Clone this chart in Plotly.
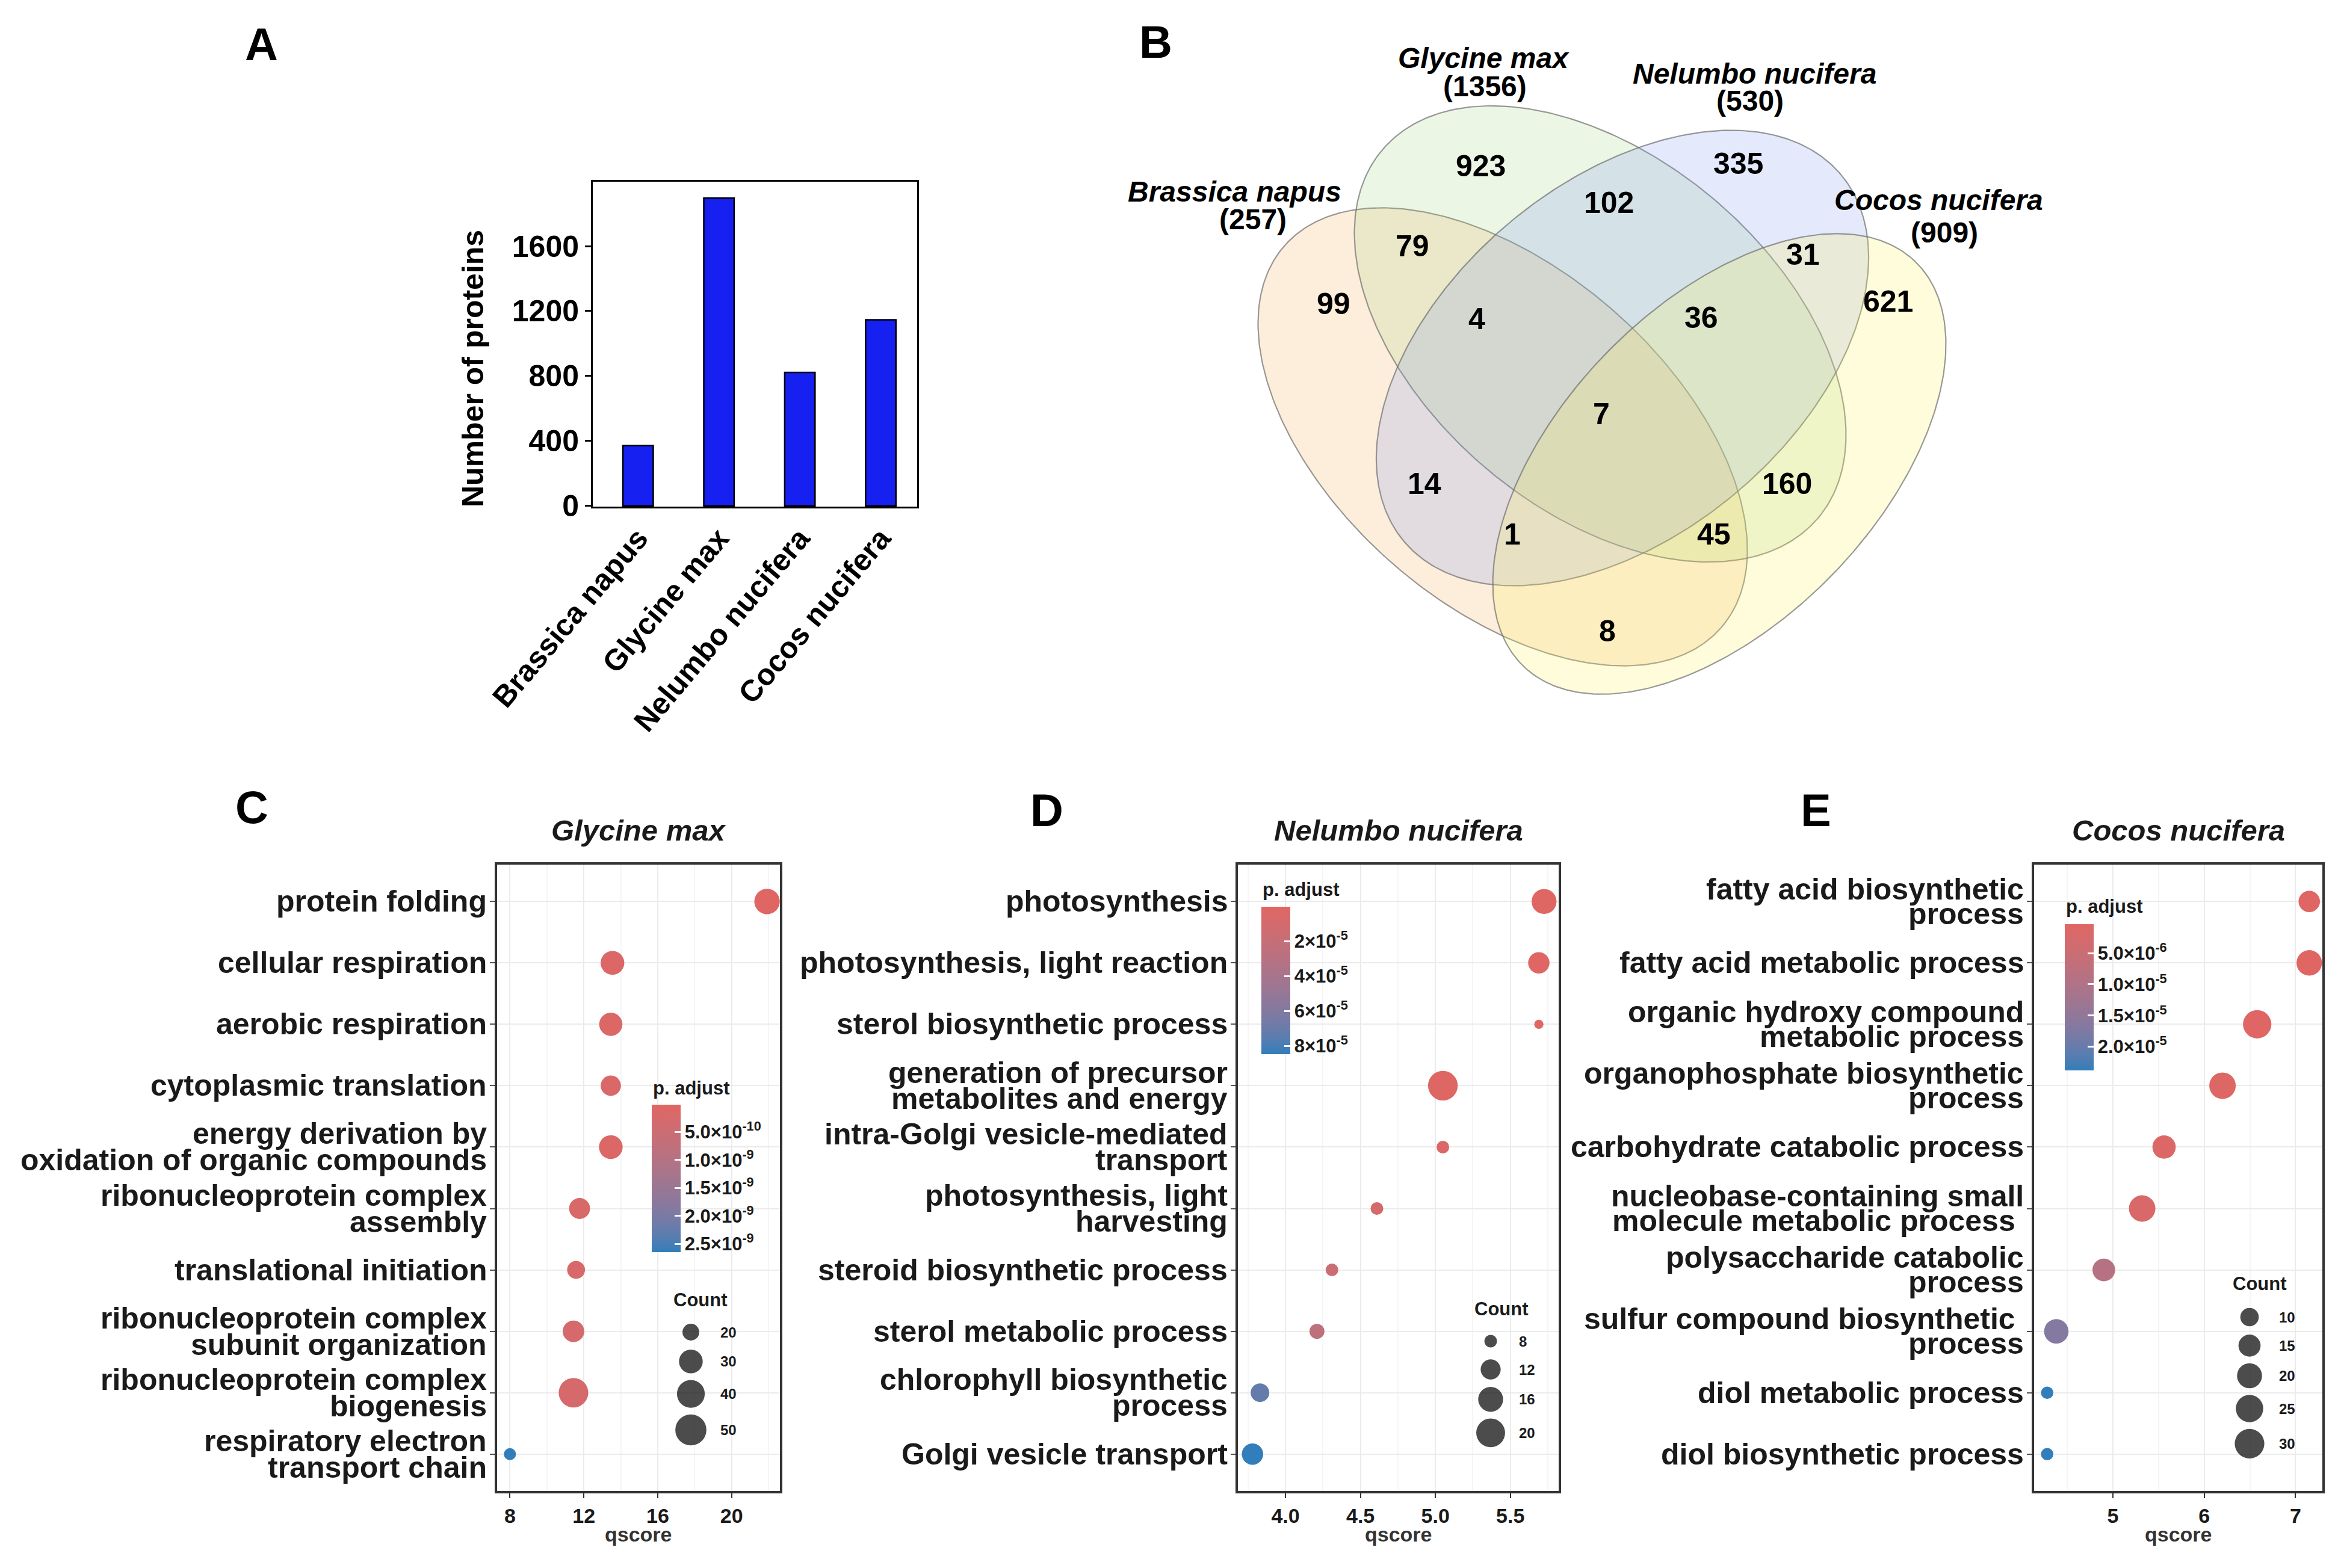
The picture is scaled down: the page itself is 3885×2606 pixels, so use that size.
import numpy as np
import plotly.graph_objects as go

W, H = 3885, 2606
FONT = "Liberation Sans, Arial, sans-serif"
VFONT = "Liberation Sans, Arial, sans-serif"

# ---------------- Panel A data ----------------
species = ["Brassica napus", "Glycine max", "Nelumbo nucifera", "Cocos nucifera"]
protein_counts = [371, 1896, 822, 1146]
a_yticks = [0, 400, 800, 1200, 1600]

# ---------------- Panel B data ----------------
venn_sets = ["Brassica napus", "Glycine max", "Nelumbo nucifera", "Cocos nucifera"]
venn_totals = [257, 1356, 530, 909]
venn_regions = ["A", "B", "C", "D", "AB", "BC", "CD", "AC", "BD", "AD",
                "ABC", "BCD", "ACD", "ABD", "ABCD"]
venn_counts = [99, 923, 335, 621, 79, 102, 31, 14, 160, 8, 4, 36, 1, 45, 7]

# ---------------- Panel C data (Glycine max) ----------------
c_terms = ["protein folding", "cellular respiration", "aerobic respiration",
           "cytoplasmic translation",
           "energy derivation by\noxidation of organic compounds",
           "ribonucleoprotein complex\nassembly", "translational initiation",
           "ribonucleoprotein complex\nsubunit organization",
           "ribonucleoprotein complex\nbiogenesis",
           "respiratory electron\ntransport chain"]
c_qscore = [21.92, 13.55, 13.46, 13.46, 13.46, 11.77, 11.58, 11.44, 11.44, 8.0]
c_count = [34, 30, 29, 24, 30, 25, 21, 26, 45, 18]
c_padj = [1.0e-11, 1.2e-10, 1.3e-10, 1.5e-10, 1.3e-10, 2.0e-10, 2.2e-10, 2.4e-10, 2.4e-10, 2.65e-9]
c_cbar_ticks = [5.0e-10, 1.0e-9, 1.5e-9, 2.0e-9, 2.5e-9]
c_cbar_text = ["5.0×10<sup>-10</sup>", "1.0×10<sup>-9</sup>", "1.5×10<sup>-9</sup>",
               "2.0×10<sup>-9</sup>", "2.5×10<sup>-9</sup>"]
c_count_breaks = [20, 30, 40, 50]

# ---------------- Panel D data (Nelumbo nucifera) ----------------
d_terms = ["photosynthesis", "photosynthesis, light reaction",
           "sterol biosynthetic process",
           "generation of precursor\nmetabolites and energy",
           "intra-Golgi vesicle-mediated\ntransport",
           "photosynthesis, light\nharvesting", "steroid biosynthetic process",
           "sterol metabolic process", "chlorophyll biosynthetic\nprocess",
           "Golgi vesicle transport"]
d_qscore = [5.725, 5.69, 5.69, 5.05, 5.05, 4.61, 4.31, 4.21, 3.83, 3.78]
d_count = [16, 13, 7, 21, 8, 8, 8, 9, 11, 13]
d_padj = [3.4e-7, 1.0e-6, 2.0e-6, 1.5e-6, 4.6e-6, 8.8e-6, 1.7e-5, 2.6e-5, 7.2e-5, 8.48e-5]
d_cbar_ticks = [2e-5, 4e-5, 6e-5, 8e-5]
d_cbar_text = ["2×10<sup>-5</sup>", "4×10<sup>-5</sup>", "6×10<sup>-5</sup>", "8×10<sup>-5</sup>"]
d_count_breaks = [8, 12, 16, 20]

# ---------------- Panel E data (Cocos nucifera) ----------------
e_terms = ["fatty acid biosynthetic\nprocess", "fatty acid metabolic process",
           "organic hydroxy compound\nmetabolic process",
           "organophosphate biosynthetic\nprocess",
           "carbohydrate catabolic process",
           "nucleobase-containing small\nmolecule metabolic process\u00a0",
           "polysaccharide catabolic\nprocess",
           "sulfur compound biosynthetic\u00a0\nprocess",
           "diol metabolic process", "diol biosynthetic process"]
e_qscore = [7.15, 7.15, 6.58, 6.2, 5.56, 5.32, 4.9, 4.38, 4.28, 4.28]
e_count = [14, 21, 27, 23, 17, 23, 16, 19, 5, 5]
e_padj = [3.7e-7, 4.0e-7, 6.0e-7, 1.0e-6, 1.5e-6, 1.8e-6, 8.6e-6, 1.68e-5, 2.38e-5, 2.38e-5]
e_cbar_ticks = [5.0e-6, 1.0e-5, 1.5e-5, 2.0e-5]
e_cbar_text = ["5.0×10<sup>-6</sup>", "1.0×10<sup>-5</sup>", "1.5×10<sup>-5</sup>", "2.0×10<sup>-5</sup>"]
e_count_breaks = [10, 15, 20, 25, 30]


# ---------------- helpers ----------------
def px(x):
    return x / W


def py(y):
    return 1 - y / H


def _lin(c):
    c = c / 255.0
    return c / 12.92 if c <= 0.04045 else ((c + 0.055) / 1.055) ** 2.4


def _gam(c):
    c = max(0.0, c)
    c = 12.92 * c if c <= 0.0031308 else 1.055 * c ** (1 / 2.4) - 0.055
    return int(min(255, max(0, round(c * 255))))


def rgb2lab(rgb):
    r, g, b = [_lin(v) for v in rgb]
    X = (0.4124 * r + 0.3576 * g + 0.1805 * b) / 0.95047
    Y = 0.2126 * r + 0.7152 * g + 0.0722 * b
    Z = (0.0193 * r + 0.1192 * g + 0.9505 * b) / 1.08883
    f = lambda t: t ** (1 / 3) if t > 0.008856 else 7.787 * t + 16 / 116
    fx, fy, fz = f(X), f(Y), f(Z)
    return 116 * fy - 16, 500 * (fx - fy), 200 * (fy - fz)


def lab2rgb(lab):
    L, a, b = lab
    fy = (L + 16) / 116
    fx = fy + a / 500
    fz = fy - b / 200
    finv = lambda t: t ** 3 if t ** 3 > 0.008856 else (t - 16 / 116) / 7.787
    X, Y, Z = finv(fx) * 0.95047, finv(fy), finv(fz) * 1.08883
    r = 3.2406 * X - 1.5372 * Y - 0.4986 * Z
    g = -0.9689 * X + 1.8758 * Y + 0.0415 * Z
    bb = 0.0557 * X - 0.2040 * Y + 1.0570 * Z
    return tuple(_gam(v) for v in (r, g, bb))


def lab_scale(c0, c1, n=11):
    l0, l1 = rgb2lab(c0), rgb2lab(c1)
    out = []
    for i in range(n):
        t = i / (n - 1)
        lab = tuple(l0[k] + (l1[k] - l0[k]) * t for k in range(3))
        out.append([t, "rgb(%d,%d,%d)" % lab2rgb(lab)])
    return out


# blue (high p) at 0, red (low p) at 1 ; values are plotted as -p so red sits at the top
COLORSCALE = lab_scale((50, 126, 186), (224, 102, 99))


def size_fn(a, b, c0):
    return lambda c: a + b * np.sqrt(max(c - c0, 0.0))


size_c = size_fn(20.0, 5.6, 18.0)
size_d = size_fn(7.5, 11.0, 6.5)
size_e = size_fn(13.5, 7.0, 4.0)

fig = go.Figure()
annotations = []


def ann(text, x, y, size, bold=True, italic=False, xanchor="center", yanchor="middle",
        angle=0, color="#000000", family=FONT, xshift=0, yshift=0):
    t = text
    if italic:
        t = "<i>" + t + "</i>"
    annotations.append(dict(
        text=t, x=px(x), y=py(y), xref="paper", yref="paper", showarrow=False,
        xanchor=xanchor, yanchor=yanchor, textangle=angle, xshift=xshift, yshift=yshift,
        font=dict(size=size, family=family, color=color, weight="bold" if bold else "normal")))


# ---------------- Panel A: bar chart ----------------
fig.add_trace(go.Bar(x=species, y=protein_counts, width=0.375,
                     marker=dict(color="rgb(22,32,240)", line=dict(color="black", width=2.5)),
                     xaxis="x", yaxis="y", showlegend=False, hoverinfo="skip"))

# ---------------- Panels C, D, E ----------------
panels = [
    dict(terms=c_terms, q=c_qscore, n=c_count, p=c_padj, ax="2", sfn=size_c,
         dom=(826, 1296), dtick=4, minor=2, fmt="d", title="Glycine max",
         cb=dict(ticks=c_cbar_ticks, text=c_cbar_text, x=1083, top=1836, bot=2081, ty=1808),
         cnt=dict(breaks=c_count_breaks, cx=1148, y0=2214, tx=1117, ty=2160, lx=1195),
         ls=44),
    dict(terms=d_terms, q=d_qscore, n=d_count, p=d_padj, ax="3", sfn=size_d,
         dom=(2057, 2590), dtick=0.5, minor=0.25, fmt=".1f", title="Nelumbo nucifera",
         cb=dict(ticks=d_cbar_ticks, text=d_cbar_text, x=2096, top=1507, bot=1752, ty=1478),
         cnt=dict(breaks=d_count_breaks, cx=2477, y0=2229, tx=2448, ty=2175, lx=2522),
         ls=43),
    dict(terms=e_terms, q=e_qscore, n=e_count, p=e_padj, ax="4", sfn=size_e,
         dom=(3380, 3859), dtick=1, minor=0.5, fmt="d", title="Cocos nucifera",
         cb=dict(ticks=e_cbar_ticks, text=e_cbar_text, x=3431, top=1536, bot=1779, ty=1506),
         cnt=dict(breaks=e_count_breaks, cx=3738, y0=2189, tx=3708, ty=2133, lx=3785),
         ls=41),
]

BOX_TOP, BOX_BOT = 1437, 2478
layout_axes = {}

for pn in panels:
    ax = pn["ax"]
    pmin, pmax = min(pn["p"]), max(pn["p"])
    cb = pn["cb"]
    fig.add_trace(go.Scatter(
        x=pn["q"], y=pn["terms"], mode="markers", xaxis="x" + ax, yaxis="y" + ax,
        showlegend=False, hoverinfo="skip",
        marker=dict(size=[pn["sfn"](v) for v in pn["n"]], sizemode="diameter",
                    color=[-v for v in pn["p"]], cmin=-pmax, cmax=-pmin,
                    colorscale=COLORSCALE, opacity=1, line=dict(width=0),
                    showscale=True,
                    colorbar=dict(
                        x=px(cb["x"]), xanchor="left",
                        y=py((cb["top"] + cb["bot"]) / 2), yanchor="middle",
                        len=(cb["bot"] - cb["top"]) / H, lenmode="fraction",
                        thickness=48, thicknessmode="pixels", outlinewidth=0,
                        xpad=0, ypad=0,
                        tickmode="array", tickvals=[-v for v in cb["ticks"]],
                        ticktext=cb["text"], ticks="inside", tickcolor="white",
                        ticklen=10, tickwidth=3,
                        tickfont=dict(size=31, family=FONT, color="#1a1a1a", weight="bold"),
                    ))))
    ann("p. adjust", cb["x"], cb["ty"], 31, xanchor="left", color="#1a1a1a")

    # count legend
    cnt = pn["cnt"]
    ds = [pn["sfn"](b) for b in cnt["breaks"]]
    ys = [cnt["y0"]]
    for k in range(1, len(ds)):
        ys.append(ys[-1] + (max(ds[k - 1], 36) + max(ds[k], 36)) / 2 + 11)
    fig.add_trace(go.Scatter(x=[cnt["cx"]] * len(ds), y=ys, mode="markers",
                             marker=dict(size=ds, color="black", line=dict(width=0)),
                             xaxis="x5", yaxis="y5", showlegend=False, hoverinfo="skip"))
    for b, yv in zip(cnt["breaks"], ys):
        ann(str(b), cnt["lx"], yv, 24, xanchor="left", color="#1a1a1a")
    ann("Count", cnt["tx"], cnt["ty"], 31, xanchor="left", color="#1a1a1a")

    # axes
    x0, x1 = pn["dom"]
    qmin, qmax = min(pn["q"]), max(pn["q"])
    r = qmax - qmin
    nterm = len(pn["terms"])
    layout_axes["xaxis" + ax] = dict(
        domain=[px(x0), px(x1)], anchor="y" + ax, range=[qmin - 0.05 * r, qmax + 0.05 * r],
        tickmode="linear", tick0=0, dtick=pn["dtick"], tickformat=pn["fmt"],
        showgrid=True, gridcolor="#ebebeb", gridwidth=2, zeroline=False,
        minor=dict(dtick=pn["minor"], tick0=0, showgrid=True, gridcolor="#f5f5f5", gridwidth=1.5),
        showline=True, mirror=True, linecolor="#333333", linewidth=3.5,
        ticks="outside", ticklen=8, tickwidth=2, tickcolor="#333333",
        tickfont=dict(size=34, family=FONT, color="#1a1a1a", weight="bold"))
    layout_axes["yaxis" + ax] = dict(
        domain=[py(BOX_BOT), py(BOX_TOP)], anchor="x" + ax, type="category",
        categoryorder="array", categoryarray=pn["terms"], range=[nterm - 0.4, -0.6],
        showticklabels=False, showgrid=True, gridcolor="#ebebeb", gridwidth=2,
        showline=True, mirror=True, linecolor="#333333", linewidth=3.5,
        ticks="outside", ticklen=8, tickwidth=2, tickcolor="#555555")

    # category labels
    for t in pn["terms"]:
        lines = t.split("\n")
        nl = len(lines)
        for i, ln in enumerate(lines):
            off = ((nl - 1) / 2 - i) * pn["ls"]
            annotations.append(dict(
                text=ln, x=0, xref="x%s domain" % ax, y=t, yref="y" + ax,
                xanchor="right", yanchor="middle", xshift=-15, yshift=off, showarrow=False,
                font=dict(size=50, family=FONT, color="#1a1a1a", weight="bold")))
    # titles
    ann(pn["title"], (x0 + x1) / 2, 1380, 49, italic=True, color="#1a1a1a")
    ann("qscore", (x0 + x1) / 2, 2550, 34, color="#333333")

# ---------------- Panel B: Venn diagram ----------------
venn_ellipses = [  # cx, cy, a, b, angle(deg), fill
    (2497, 726, 482, 279, 41.2, "rgba(245,170,80,0.20)"),
    (2659, 555, 474, 293, 40.2, "rgba(150,205,110,0.18)"),
    (2696, 595, 474, 293, -40.0, "rgba(120,150,240,0.20)"),
    (2857, 771, 468, 263, -45.9, "rgba(250,240,90,0.22)"),
]
tt = np.linspace(0, 2 * np.pi, 361)
for cx, cy, a, b, ang, fc in venn_ellipses:
    th = np.deg2rad(ang)
    ex = cx + a * np.cos(tt) * np.cos(th) - b * np.sin(tt) * np.sin(th)
    ey = cy + a * np.cos(tt) * np.sin(th) + b * np.sin(tt) * np.cos(th)
    fig.add_trace(go.Scatter(x=ex, y=ey, mode="lines", fill="toself", fillcolor=fc,
                             line=dict(color="rgba(110,110,110,0.7)", width=2.2),
                             xaxis="x5", yaxis="y5", showlegend=False, hoverinfo="skip"))

venn_label_pos = {
    "A": (2216, 505), "B": (2460, 276), "C": (2888, 272), "D": (3137, 501),
    "AB": (2347, 409), "BC": (2673, 337), "CD": (2996, 423), "AC": (2367, 804),
    "BD": (2969, 804), "AD": (2671, 1049), "ABC": (2454, 530), "BCD": (2827, 528),
    "ACD": (2513, 888), "ABD": (2848, 888), "ABCD": (2661, 688),
}
for reg, v in zip(venn_regions, venn_counts):
    x, y = venn_label_pos[reg]
    ann(str(v), x, y, 50, family=VFONT)

venn_name_pos = [((2051, 318), (2082, 364)), ((2465, 96), (2467, 144)),
                 ((2915, 122), (2908, 168)), ((3221, 333), (3231, 386))]
for name, tot, (p1, p2) in zip(venn_sets, venn_totals, venn_name_pos):
    ann(name, p1[0], p1[1], 48, italic=True, family=VFONT)
    ann("(%d)" % tot, p2[0], p2[1], 48, family=VFONT)

# ---------------- panel letters & panel A texts ----------------
for letter, x, y in [("A", 434, 74), ("B", 1920, 69), ("C", 418, 1341),
                     ("D", 1739, 1346), ("E", 3017, 1346)]:
    ann(letter, x, y, 76)
ann("Number of proteins", 786, 613, 50, angle=-90)

fig.update_layout(
    width=W, height=H, autosize=False,
    margin=dict(l=0, r=0, t=0, b=0, pad=0, autoexpand=False),
    paper_bgcolor="white", plot_bgcolor="rgba(0,0,0,0)", showlegend=False,
    font=dict(family=FONT, color="black"),
    xaxis=dict(domain=[px(985), px(1524)], anchor="y", range=[-0.56, 3.45],
               showline=True, mirror=True, linecolor="black", linewidth=3,
               ticks="", showgrid=False, tickangle=-50, automargin=False,
               tickfont=dict(size=50, family=FONT, color="black", weight="bold")),
    yaxis=dict(domain=[py(842), py(302)], anchor="x", range=[-5, 1997],
               tickmode="array", tickvals=a_yticks, automargin=False,
               showline=True, mirror=True, linecolor="black", linewidth=3,
               ticks="outside", ticklen=10, tickwidth=2.5, tickcolor="black",
               showgrid=False, zeroline=False,
               tickfont=dict(size=50, family=FONT, color="black", weight="bold")),
    xaxis5=dict(domain=[0, 1], anchor="y5", range=[0, W], visible=False, fixedrange=True),
    yaxis5=dict(domain=[0, 1], anchor="x5", range=[H, 0], visible=False, fixedrange=True),
    annotations=annotations,
    **layout_axes,
)

fig.write_html("out.html", config={"displayModeBar": False},
               post_script="document.body.style.margin='0px';")
